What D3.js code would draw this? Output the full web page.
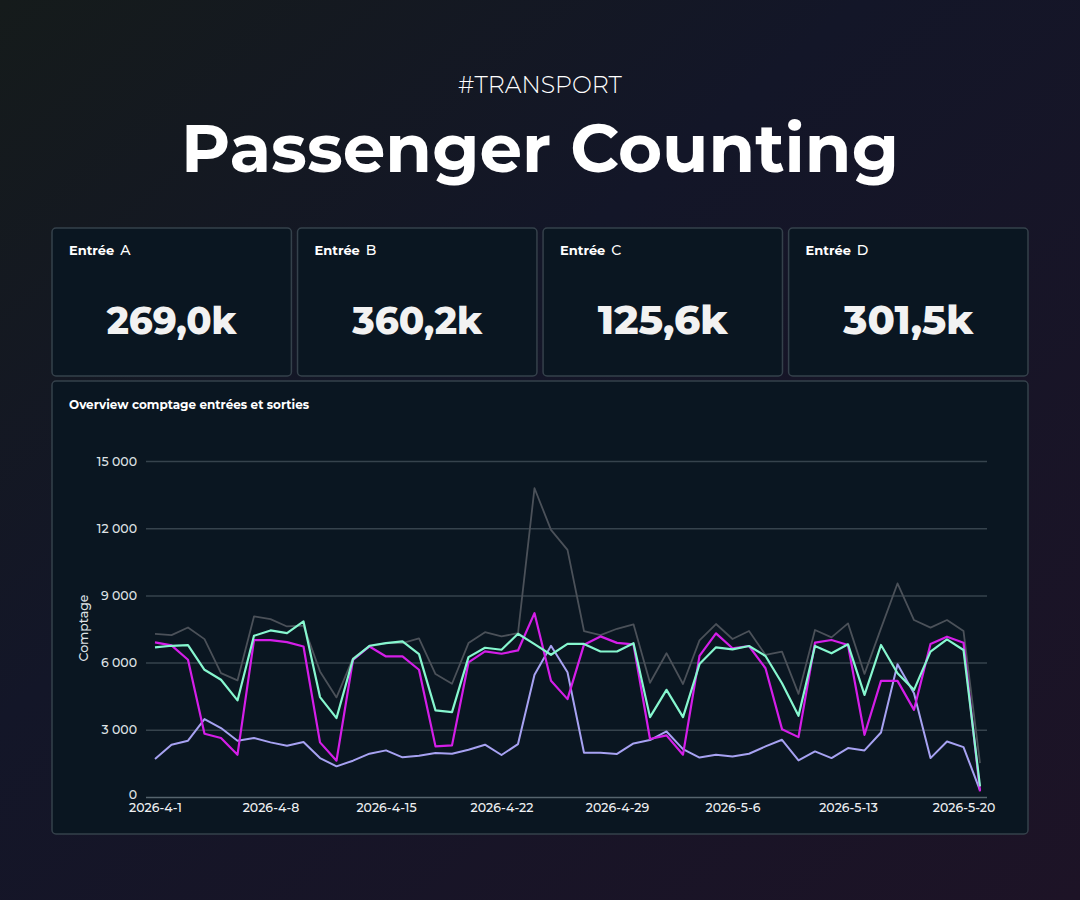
<!DOCTYPE html>
<html>
<head>
<meta charset="utf-8">
<script src="https://cdn.jsdelivr.net/npm/d3@7/dist/d3.min.js"></script>
<style>
  html, body { margin: 0; padding: 0; background: #131520; }
  svg { display: block; }
  text { font-family: Montserrat, Inter, "Open Sans", sans-serif; }
</style>
</head>
<body>
<div id="chart"></div>
<script>
(function() {
    'use strict';

    // kpi cards
    var entrees = ["A", "B", "C", "D"];
    var totalsK = [269.0, 360.2, 125.6, 301.5];

    // daily counts 2026-4-1 .. 2026-5-21
    var startDate = "2026-04-01";
    var serieA = [6900, 6766, 6126, 2825, 2632, 1888, 7004, 7004, 6915, 6721,
                  2439, 1621, 6126, 6721, 6275, 6275, 5680, 2260, 2305, 6007,
                  6498, 6394, 6543, 8208, 5190, 4370, 6800, 7170, 6880, 6810,
                  2590, 2750, 1890, 6300, 7306, 6638, 6742, 5747, 3029, 2673,
                  6890, 7009, 6786, 2777, 5183, 5183, 3891, 6831, 7158, 6890, 250];
    var serieB = [7286, 7227, 7569, 7048, 5532, 5205, 8060, 7941, 7613, 7650,
                  5606, 4446, 6200, 6721, 6870, 6870, 7078, 5487, 5056, 6870,
                  7360, 7167, 7316, 13785, 11926, 11034, 7410, 7230, 7510, 7710,
                  5100, 6420, 5045, 6990, 7722, 7054, 7410, 6341, 6489, 4604,
                  7455, 7128, 7752, 5495, 7529, 9534, 7900, 7559, 7900, 7410, 1515];
    var serieC = [1695, 2335, 2513, 3480, 3078, 2513, 2632, 2439, 2290, 2454,
                  1740, 1368, 1621, 1933, 2082, 1770, 1844, 1963, 1933, 2112,
                  2335, 1874, 2364, 5457, 6751, 5570, 1975, 1975, 1925, 2390,
                  2540, 2925, 2140, 1760, 1886, 1812, 1930, 2257, 2554, 1634,
                  2034, 1737, 2183, 2079, 2881, 5925, 4633, 1737, 2480, 2228, 297];
    var serieD = [6677, 6751, 6781, 5680, 5234, 4312, 7197, 7435, 7316, 7836,
                  4461, 3524, 6156, 6751, 6870, 6944, 6379, 3866, 3792, 6245,
                  6662, 6573, 7286, 6825, 6350, 6835, 6835, 6495, 6495, 6865,
                  3566, 4785, 3566, 5935, 6683, 6593, 6742, 6296, 5079, 3623,
                  6742, 6415, 6816, 4559, 6786, 5524, 4782, 6489, 7039, 6564, 475];
    var yTicks = [0, 3000, 6000, 9000, 12000, 15000];
    var xTickDates = ["2026-04-01", "2026-04-08", "2026-04-15", "2026-04-22",
                      "2026-04-29", "2026-05-06", "2026-05-13", "2026-05-20"];

    var width = 1080, height = 900;
    var font = "Montserrat, Inter, 'Open Sans', sans-serif";

    var fr = d3.formatLocale({decimal: ",", thousands: "\u00a0", grouping: [3], currency: ["", " €"]});
    var fmtCount = fr.format(",d"),
        fmtK = fr.format(".1f"),
        fmtDate = d3.timeFormat("%Y-%-m-%-d"),
        parse = d3.timeParse("%Y-%m-%d");

    var svg = d3.select("#chart").append("svg")
        .attr("width", width)
        .attr("height", height);

    // page background
    var defs = svg.append("defs");
    var bg = defs.append("linearGradient")
        .attr("id", "bg")
        .attr("x1", "0").attr("y1", "0")
        .attr("x2", "1").attr("y2", "1");
    bg.append("stop").attr("offset", "0%").attr("stop-color", "#151b1b");
    bg.append("stop").attr("offset", "40%").attr("stop-color", "#131628");
    bg.append("stop").attr("offset", "100%").attr("stop-color", "#1d1326");

    svg.append("rect")
        .attr("width", width)
        .attr("height", height)
        .attr("fill", "url(#bg)");

    // fit a text to a target width by changing its font size
    function fitText(sel, target) {
        var size = parseFloat(sel.attr("font-size"));
        var w = sel.node().getComputedTextLength();
        if (w > 0) sel.attr("font-size", size * target / w);
    }

    // headings
    var tag = svg.append("text")
        .attr("x", width / 2)
        .attr("y", 93)
        .attr("text-anchor", "middle")
        .attr("fill", "#ffffff")
        .attr("font-size", 22)
        .attr("font-weight", 300)
        .text("#TRANSPORT");
    fitText(tag, 164);

    var title = svg.append("text")
        .attr("x", width / 2)
        .attr("y", 172)
        .attr("text-anchor", "middle")
        .attr("fill", "#ffffff")
        .attr("font-size", 70)
        .attr("font-weight", 700)
        .text("Passenger Counting");
    fitText(title, 718);

    // kpi cards
    var cardX = d3.scaleBand()
        .domain(entrees)
        .range([52, 1028])
        .paddingInner(0.025);

    var cards = svg.selectAll(".card")
        .data(entrees)
      .enter().append("g")
        .attr("class", "card")
        .attr("transform", function(d) { return "translate(" + cardX(d) + ",228)"; });

    cards.append("rect")
        .attr("width", cardX.bandwidth())
        .attr("height", 148)
        .attr("rx", 4)
        .attr("fill", "#0a1621")
        .attr("stroke", "#35414b")
        .attr("stroke-width", 1.5);

    var lbl = cards.append("text")
        .attr("x", 17)
        .attr("y", 27)
        .attr("fill", "#ffffff")
        .attr("font-size", 13);
    lbl.append("tspan")
        .attr("font-weight", 700)
        .text("Entrée");
    lbl.append("tspan")
        .attr("dx", 6)
        .attr("font-weight", 500)
        .attr("font-size", 14)
        .text(function(d) { return d; });

    cards.append("text")
        .attr("x", cardX.bandwidth() / 2)
        .attr("y", 106)
        .attr("text-anchor", "middle")
        .attr("fill", "#f2f2f2")
        .attr("font-size", 34)
        .attr("font-weight", 800)
        .text(function(d, i) { return fmtK(totalsK[i]) + "k"; })
        .each(function() { fitText(d3.select(this), 130); });

    // chart panel
    svg.append("rect")
        .attr("x", 52)
        .attr("y", 381)
        .attr("width", 976)
        .attr("height", 453)
        .attr("rx", 4)
        .attr("fill", "#0a1621")
        .attr("stroke", "#35414b")
        .attr("stroke-width", 1.5);

    svg.append("text")
        .attr("x", 69)
        .attr("y", 409)
        .attr("fill", "#ffffff")
        .attr("font-size", 12)
        .attr("font-weight", 700)
        .text("Overview comptage entrées et sorties");

    var dates = serieA.map(function(d, i) { return d3.timeDay.offset(parse(startDate), i); });

    var xScale = d3.scaleTime()
        .domain([dates[0], dates[dates.length - 1]])
        .range([155, 980]);
    var yScale = d3.scaleLinear()
        .domain([0, 15000])
        .range([797, 461]);

    // y grid + labels
    var yAxis = d3.axisLeft(yScale)
        .tickValues(yTicks)
        .tickSize(-841)
        .tickPadding(9)
        .tickFormat(fmtCount);

    var gy = svg.append("g")
        .attr("transform", "translate(146,0)")
        .call(yAxis);
    gy.select(".domain").remove();
    gy.selectAll(".tick line")
        .attr("stroke", "#36434d")
        .attr("stroke-width", 1.5);
    gy.selectAll(".tick text")
        .attr("fill", "#dfe2e5")
        .attr("font-size", 12.5)
        .attr("font-weight", 500)
        .style("font-family", font);
    gy.selectAll(".tick").filter(function(d) { return d === 0; })
        .select("text").attr("dy", "0.1em");
    gy.selectAll(".tick line").filter(function(d) { return d === 0; })
        .attr("stroke", "#56646e");

    svg.append("text")
        .attr("transform", "translate(88,628) rotate(-90)")
        .attr("text-anchor", "middle")
        .attr("fill", "#dfe2e5")
        .attr("font-size", 12.5)
        .attr("font-weight", 500)
        .text("Comptage");

    // x labels
    var xAxis = d3.axisBottom(xScale)
        .tickValues(xTickDates.map(parse))
        .tickSize(0)
        .tickPadding(6)
        .tickFormat(fmtDate);

    var gx = svg.append("g")
        .attr("transform", "translate(0,797)")
        .call(xAxis);
    gx.select(".domain").remove();
    gx.selectAll(".tick text")
        .attr("fill", "#eef0f2")
        .attr("font-size", 12.5)
        .attr("font-weight", 500)
        .style("font-family", font);

    // lines
    var series = [
        {name: "Entrée B", values: serieB, color: "#4b5159", width: 1.8},
        {name: "Entrée C", values: serieC, color: "#a7a2f2", width: 2},
        {name: "Entrée A", values: serieA, color: "#d41ee8", width: 2.2},
        {name: "Entrée D", values: serieD, color: "#86f7cf", width: 2.2}
    ];

    var line = d3.line()
        .x(function(d, i) { return xScale(dates[i]); })
        .y(function(d) { return yScale(d); });

    svg.selectAll(".serie")
        .data(series)
      .enter().append("path")
        .attr("class", "serie")
        .attr("fill", "none")
        .attr("stroke", function(d) { return d.color; })
        .attr("stroke-width", function(d) { return d.width; })
        .attr("stroke-linejoin", "round")
        .attr("d", function(d) { return line(d.values); });
})();
</script>
</body>
</html>
